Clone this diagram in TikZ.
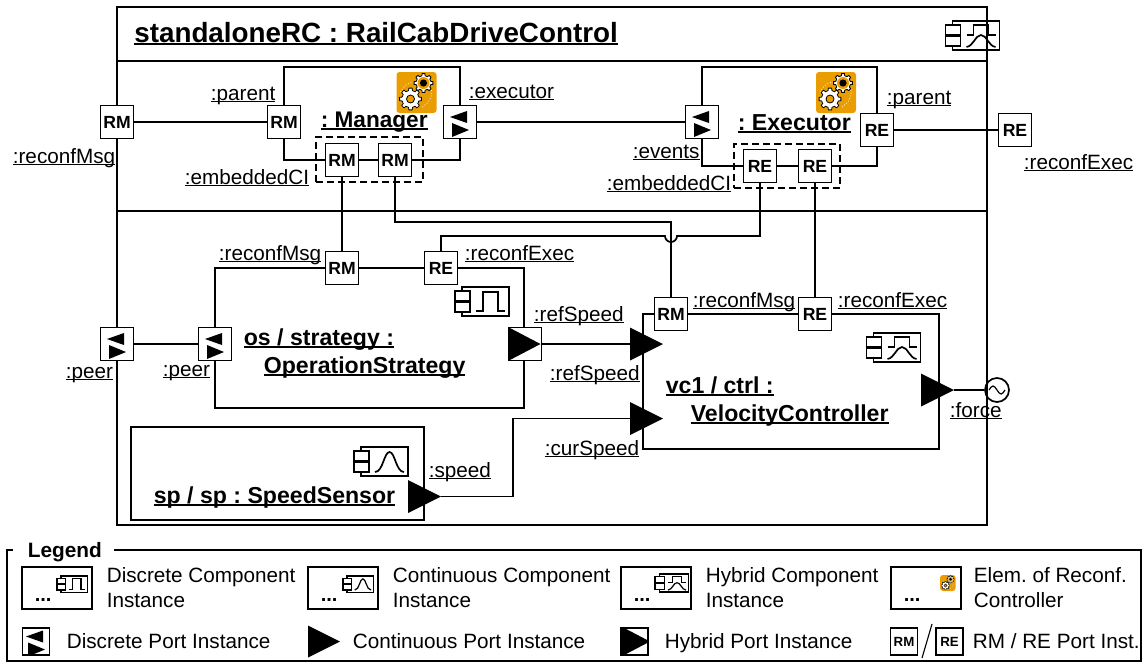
\documentclass[tikz,border=0pt]{standalone}
\usepackage{fontspec}
\setmainfont{Liberation Sans}
\usetikzlibrary{shapes.geometric}
\definecolor{gearorange}{HTML}{E99D00}
\frenchspacing
\newcommand{\ulab}[2][.07em]{\leavevmode\setbox0=\hbox{#2}\rlap{\rule[-.12em]{\wd0}{#1}}\box0}
\newcommand{\compbody}{
  \draw (7,0) rectangle (54,29);
  \draw[fill=white] (0,4) rectangle (15,14);
  \draw[fill=white] (0,15) rectangle (15,25);}
\newcommand{\gearwheel}[3]{
  \draw[shift={(#1,#2)},scale=#3,gearline,fill=white,line join=round] (-13:.78) \foreach \a in {0,45,...,315}{
    -- ({\a-13}:.78) -- ({\a-9}:1) -- ({\a+9}:1) -- ({\a+13}:.78)} -- cycle;}
\tikzset{
 gearline/.style={line width=.8pt},
 pics/discicon/.style={code={
   \compbody
   \draw (21,24) -- (28,24) -- (28,5) -- (43,5) -- (43,24) -- (50,24);}},
 pics/conticon/.style={code={
   \compbody
   \draw (21,25) .. controls (29,25) and (30,5) .. (35.5,5) .. controls (41,5) and (42,25) .. (50,25);}},
 pics/hybicon/.style={code={
   \compbody
   \draw (21,14) -- (28,14) -- (28,4) -- (43,4) -- (43,14) -- (50,14);
   \draw (21,26) .. controls (28,25) and (30,14) .. (35.5,14) .. controls (41,14) and (43,25) .. (50,26);}},
 pics/gearicon/.style={code={
   \fill[gearorange,rounded corners=3] (0,0) rectangle (40,41);
   \draw[white,gearline,dotted] (4,20) .. controls (7,14) and (11,11) .. (17,10);
   \draw[white,gearline,dotted] (35,18) .. controls (36,26) and (32,31) .. (26,35);
   \gearwheel{27}{11}{9.5}
   \fill[gearorange] (27,11) circle[radius=6];
   \fill (27,11) circle[radius=3.6];
   \gearwheel{14}{27}{11}
   \draw[fill=gearorange,gearline] (14,27) circle[radius=4];}}
}
\begin{document}
\begin{tikzpicture}[x=1pt,y=-1pt,line width=1.7pt,
 txtlab/.style={anchor=base west,inner sep=0,font=\fontsize{20.7}{25}\selectfont},
 instname/.style={anchor=base west,inner sep=0,font=\fontsize{23.1}{28}\selectfont\bfseries},
 compbox/.style={draw,rectangle,inner sep=0},
 dashbox/.style={draw,rectangle,inner sep=0,line width=1.2pt,dash pattern=on 7pt off 4pt},
 portbox/.style={draw,fill=white,rectangle,inner sep=0,outer sep=0,minimum size=#1,
   font=\fontsize{17.6}{20}\selectfont\bfseries},
 portbox/.default=33,
 discport/.style={portbox=#1,path picture={
   \fill[black,shift={(path picture bounding box.center)},scale=#1/33] (-10,-5) -- (7,-11) -- (7,1) -- cycle;
   \fill[black,shift={(path picture bounding box.center)},scale=#1/33] (9,8) -- (-8,1) -- (-8,15) -- cycle;}},
 discport/.default=33,
 hybport/.style={portbox=#1,path picture={
   \fill[black,shift={(path picture bounding box.center)},scale=#1/33] (-17,-17) -- (15.5,0) -- (-17,17) -- cycle;}},
 hybport/.default=33,
 contport/.style={isosceles triangle,isosceles triangle stretches,fill=black,inner sep=0,outer sep=0,
   minimum width=#1,minimum height=#1,anchor=lower side},
 contport/.default=33,
 srcnode/.style={draw,circle,inner sep=0,minimum size=24,path picture={
   \draw[line width=1.2pt,shift={(path picture bounding box.center)}] (-8,0) sin (-4,-4) cos (0,0) sin (4,4) cos (8,0);}},
 legbox/.style={draw,rectangle,inner sep=0,minimum width=70,minimum height=42},
 minifont/.style={font=\fontsize{13.3}{15}\selectfont\bfseries}]
\useasboundingbox (0,0) rectangle (1142,662);

\node[compbox,minimum width=870,minimum height=518] (frame) at (552,266) {};
\coordinate (divA) at (987,61);
\coordinate (divB) at (987,211);
\draw (frame.west |- divA) -- (divA);
\draw (frame.west |- divB) -- (divB);
\node[txtlab,font=\fontsize{27.8}{33}\selectfont\bfseries] (title) at (133.5,42) {\ulab[.1em]{standaloneRC : RailCabDriveControl}};
\pic at (945.5,21) {hybicon};

\node[compbox,minimum width=176,minimum height=93] (manager) at (372,113.5) {};
\node[compbox,minimum width=175,minimum height=99] (executor) at (789.5,116.5) {};
\node[compbox,minimum width=309,minimum height=140] (strategy) at (369.5,338) {};
\node[compbox,minimum width=296,minimum height=135] (ctrl) at (791,381.5) {};
\node[compbox,minimum width=293,minimum height=93] (sensor) at (277.5,473.5) {};
\node[dashbox,minimum width=107,minimum height=45] (embM) at (369.5,159.5) {};
\node[dashbox,minimum width=106,minimum height=44] (embE) at (787,166) {};

\pic at (396.5,72) {gearicon};
\pic at (816,72) {gearicon};
\pic at (455,287) {discicon};
\pic at (866.5,333) {hybicon};
\pic at (354,447) {conticon};

\node[portbox] (rmOut) at (117,122) {RM};
\node[portbox] (rmParent) at (284,122) {RM};
\node[discport] (portExecutor) at (460,122) {};
\node[portbox] (rmEmbA) at (342,160) {RM};
\node[portbox] (rmEmbB) at (395,160) {RM};
\node[discport] (portEvents) at (702,122) {};
\node[portbox] (reEmbA) at (760,166) {RE};
\node[portbox] (reEmbB) at (815,166) {RE};
\node[portbox] (reParent) at (877,130) {RE};
\node[portbox] (reOut) at (1015,130) {RE};
\node[discport] (peerOut) at (117,344) {};
\node[discport] (peerIn) at (215,344) {};
\node[portbox] (rmStrategy) at (342,268) {RM};
\node[portbox] (reStrategy) at (441,268) {RE};
\node[hybport] (refOut) at (525,344) {};
\node[contport] (refIn) at (630,344) {};
\node[contport] (curIn) at (630,418.5) {};
\node[portbox] (rmCtrl) at (671,314) {RM};
\node[portbox] (reCtrl) at (815,314) {RE};
\node[contport] (forceOut) at (921,390) {};
\node[srcnode] (forceSrc) at (997,390) {};
\node[contport] (speedOut) at (408,496.5) {};

\coordinate (midRM) at (671,222);
\coordinate (hopL) at (665,236);
\coordinate (hopR) at (677,236);
\coordinate (bendCur) at (513,418.5);
\draw (rmOut) -- (rmParent);
\draw (portExecutor) -- (portEvents);
\draw (reParent) -- (reOut);
\draw (peerOut) -- (peerIn);
\draw (rmEmbA) -- (rmStrategy);
\draw (rmEmbB.south) |- (midRM) -- (rmCtrl.north);
\draw (reStrategy.north) |- (hopL) arc[start angle=180,end angle=0,radius=6] -| (reEmbA.south);
\draw (reEmbB) -- (reCtrl);
\draw (rmStrategy) -- (reStrategy);
\draw (rmCtrl) -- (reCtrl);
\draw (refOut.east) -- (refIn.lower side);
\draw (speedOut.apex) -| (bendCur) -- (curIn.lower side);
\draw (forceOut.apex) -- (forceSrc);

\node[txtlab] (lMsgOut) at (12,163) {\ulab{:reconfMsg}};
\node[txtlab] (lParentM) at (210,100) {\ulab{:parent}};
\node[txtlab] (lExecutor) at (468,98) {\ulab{:executor}};
\node[txtlab] (lEmbM) at (184,184) {\ulab{:embeddedCI}};
\node[txtlab] (lEvents) at (632,158) {\ulab{:events}};
\node[txtlab] (lEmbE) at (606,190) {\ulab{:embeddedCI}};
\node[txtlab] (lParentE) at (886,104) {\ulab{:parent}};
\node[txtlab] (lExecOut) at (1023,169) {\ulab{:reconfExec}};
\node[txtlab] (lMsgS) at (218,260) {\ulab{:reconfMsg}};
\node[txtlab] (lExecS) at (464,260) {\ulab{:reconfExec}};
\node[txtlab] (lPeerOut) at (65,378) {\ulab{:peer}};
\node[txtlab] (lPeerIn) at (162,376) {\ulab{:peer}};
\node[txtlab] (lRefOut) at (533,321) {\ulab{:refSpeed}};
\node[txtlab] (lRefIn) at (549,380) {\ulab{:refSpeed}};
\node[txtlab] (lCur) at (544,455) {\ulab{:curSpeed}};
\node[txtlab] (lSpeed) at (428,477) {\ulab{:speed}};
\node[txtlab] (lMsgC) at (692,307) {\ulab{:reconfMsg}};
\node[txtlab] (lExecC) at (837,307) {\ulab{:reconfExec}};
\node[txtlab] (lForce) at (949,417) {\ulab{:force}};

\node[instname,font=\fontsize{22.6}{27}\selectfont\bfseries] (nManager) at (320,127) {\ulab[.09em]{: Manager}};
\node[instname] (nExecutor) at (737,130) {\ulab[.09em]{: Executor}};
\node[instname] (nStrategyA) at (243,345) {\ulab[.09em]{os / strategy :}};
\node[instname] (nStrategyB) at (263,373) {\ulab[.09em]{OperationStrategy}};
\node[instname] (nCtrlA) at (665,393) {\ulab[.09em]{vc1 / ctrl :}};
\node[instname] (nCtrlB) at (690,421) {\ulab[.09em]{VelocityController}};
\node[instname] (nSensor) at (153,503) {\ulab[.09em]{sp / sp : SpeedSensor}};

\draw (114,550) -- (1141,550) -- (1141,661) -- (7,661) -- (7,550) -- (13,550);
\node[txtlab,font=\fontsize{20.8}{25}\selectfont\bfseries] (legTitle) at (27,557) {Legend};
\foreach \i/\x/\tx/\ta/\tb in {1/22/106/Discrete Component/Instance,
  2/308/392/Continuous Component/Instance,
  3/621/705/Hybrid Component/Instance,
  4/891/973/Elem. of Reconf./Controller}{
  \node[legbox] (legBox\i) at (\x+35,588) {};
  \node[txtlab,font=\fontsize{20}{24}\selectfont\bfseries] (legDots\i) at (\x+12,601) {...};
  \node[txtlab] (legA\i) at (\tx,582) {\ta};
  \node[txtlab] (legB\i) at (\tx,607) {\tb};
}
\pic[scale=.56,line width=1.2pt] at (57,576) {discicon};
\pic[scale=.56,line width=1.2pt] at (343,576) {conticon};
\pic[scale=.62,line width=1.2pt] at (655,574) {hybicon};
\pic[scale=.39,gearline/.style={line width=.4pt}] at (940,575) {gearicon};

\node[discport=27] (legDisc) at (36,641.5) {};
\node[txtlab] (legDiscT) at (66,648) {Discrete Port Instance};
\node[contport=32] (legCont) at (308,641.5) {};
\node[txtlab] (legContT) at (352,648) {Continuous Port Instance};
\node[hybport=27] (legHyb) at (634.5,641.5) {};
\node[txtlab] (legHybT) at (664,648) {Hybrid Port Instance};
\node[portbox=27,minifont] (legRM) at (904,641.5) {RM};
\node[portbox=27,minifont] (legRE) at (949.5,641.5) {RE};
\coordinate (slashA) at (922,658);
\coordinate (slashB) at (932,624);
\draw[line width=1.1pt] (slashA) -- (slashB);
\node[txtlab] (legRT) at (972,648) {RM / RE Port Inst.};
\end{tikzpicture}
\end{document}
